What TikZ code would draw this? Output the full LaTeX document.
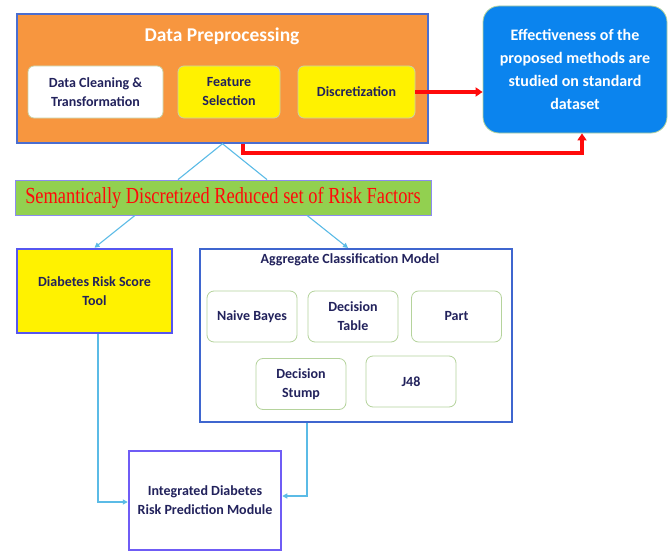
\documentclass[tikz,border=0pt]{standalone}
\usepackage{fontspec}
\setmainfont{Carlito}
\newfontfamily\bannerfont[FakeStretch=0.8]{Liberation Serif}
\usepackage{xcolor}
\usetikzlibrary{arrows.meta,positioning}
\definecolor{prepOrange}{HTML}{F7963F}
\definecolor{prepEdge}{HTML}{4A6ED0}
\definecolor{effBlue}{HTML}{0B84EE}
\definecolor{bannerGreen}{HTML}{92D050}
\definecolor{bannerEdge}{HTML}{8C8CF0}
\definecolor{hotRed}{HTML}{FF0A0A}
\definecolor{linkBlue}{HTML}{5BBBE6}
\definecolor{navyText}{HTML}{22225C}
\definecolor{subEdge}{HTML}{C9D3A6}
\definecolor{mdlGreen}{HTML}{B5D39C}
\definecolor{riskEdge}{HTML}{5656F0}
\definecolor{aggEdge}{HTML}{3F66CF}
\definecolor{integEdge}{HTML}{6F5CF5}

\begin{document}
\begin{tikzpicture}[x=1pt,y=-1pt, font=\bfseries\fontsize{14}{19}\selectfont,
  >={Triangle[length=5pt,width=5pt]},
  sub/.style={rounded corners=6pt,draw=subEdge,line width=0.8pt,text=navyText,align=center,minimum height=52pt,inner sep=0pt},
  mdl/.style={rounded corners=7pt,draw=mdlGreen,line width=0.8pt,fill=white,text=navyText,align=center,minimum width=90pt,minimum height=51pt,inner sep=0pt},
  blk/.style={line width=2pt,text=navyText,align=center,inner sep=0pt},
  lnk/.style={draw=linkBlue,line width=1.1pt},
  hot/.style={draw=hotRed,line width=3.8pt}]
\useasboundingbox (0,0) rectangle (672,551);
% --- preprocessing block ---
  \node[blk,draw=prepEdge,line width=1.5pt,fill=prepOrange,minimum width=411pt,minimum height=129pt] (prep) at (222.5,78.5) {};
  \node[text=white,font=\bfseries\fontsize{19.5}{22}\selectfont] (ttlPrep) at (222,36) {Data Preprocessing};
  \node[sub,fill=white,minimum width=135pt] (clean) at (95.5,92) {Data Cleaning \&\\Transformation};
  \node[sub,fill=yellow,minimum width=102pt] (feat) at (229,92) {Feature\\Selection};
  \node[sub,fill=yellow,minimum width=117pt] (disc) at (356.5,92) {Discretization};
  \node[rounded corners=16pt,draw=mdlGreen,line width=0.8pt,fill=effBlue,text=white,align=center,
    minimum width=184pt,minimum height=127pt,font=\bfseries\fontsize{16}{23}\selectfont] (eff) at (575,69.5)
    {Effectiveness of the\\proposed methods are\\studied on standard\\dataset};
  \draw[hot,-{Triangle[length=7pt,width=9pt]}] (disc.east) -- (disc.east -| eff.west);
  \draw[hot,-{Triangle[length=7pt,width=9pt]}] ([xshift=20.5pt]prep.south) -- ++(0,9) -| ([xshift=7pt]eff.south);
% --- reduced set ---
  \node[draw=bannerEdge,line width=0.8pt,fill=bannerGreen,minimum width=416pt,minimum height=35pt,inner sep=0pt,
    text=hotRed,font=\bannerfont\fontsize{23}{26}\selectfont] (banner) at (223,197.5)
    {Semantically Discretized Reduced set of Risk Factors};
  \draw[lnk] ([xshift=-45pt]banner.north) -- (prep.south) -- ([xshift=44pt]banner.north);
% --- models ---
  \node[blk,draw=riskEdge,line width=2.5pt,fill=yellow,minimum width=155pt,minimum height=84pt] (risk) at (94.5,291) {Diabetes Risk Score\\Tool};
  \node[blk,draw=aggEdge,fill=white,minimum width=312pt,minimum height=173pt] (agg) at (356,335.5) {};
  \node[text=navyText] (ttlAgg) at (350,260) {Aggregate Classification Model};
  \node[mdl] (nb) at (252,316.5) {Naive Bayes};
  \node[mdl] (dt) at (353,316.5) {Decision\\Table};
  \node[mdl] (part) at (456.5,316.5) {Part};
  \node[mdl] (ds) at (301,384) {Decision\\Stump};
  \node[mdl] (j48) at (411,381.5) {J48};
  \node[blk,draw=integEdge,line width=2.5pt,fill=white,minimum width=152pt,minimum height=99pt] (integ) at (205,500.5) {Integrated Diabetes\\Risk Prediction Module};
  \draw[lnk,->] ([xshift=-88pt]banner.south) -- (risk.north);
  \draw[lnk,->] ([xshift=84pt]banner.south) -- ([xshift=-8pt]agg.north);
  \draw[lnk,->] ([xshift=3.5pt]risk.south) |- ([yshift=-1.5pt]integ.west);
  \draw[lnk,->] ([xshift=-49pt]agg.south) |- ([yshift=4.5pt]integ.east);
\end{tikzpicture}
\end{document}
